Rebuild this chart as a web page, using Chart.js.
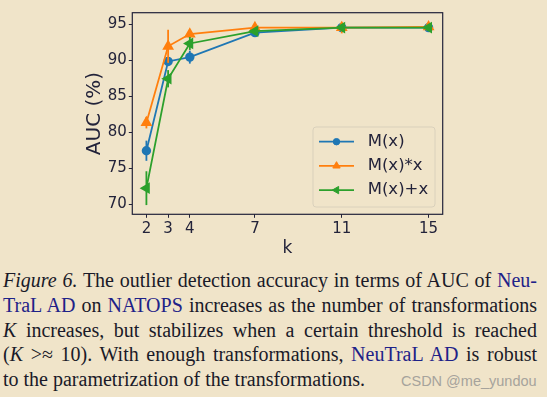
<!DOCTYPE html>
<html>
<head>
<meta charset="utf-8">
<script src="https://cdn.jsdelivr.net/npm/chart.js@4.4.1/dist/chart.umd.min.js"></script>
<style>
body { margin:0; background:#f0e4c9; width:547px; height:397px; overflow:hidden; position:relative; }
#wrap { position:absolute; left:0; top:0; width:547px; height:260px; }
#cap { position:absolute; left:3px; top:268.2px; width:534px; font-family:'Liberation Serif','Times New Roman',serif; font-size:20px; line-height:24.75px; color:#1a1a28; }
.ln { text-align:justify; text-align-last:justify; }
.last { text-align:left; text-align-last:left; }
.lk { color:#1e2288; }
#mark { position:absolute; left:401px; top:374px; font-family:'Liberation Sans',Arial,sans-serif; font-size:14.5px; line-height:1; color:#a6a39c; }
</style>
</head>
<body>
<div id="wrap"><canvas id="chart" width="547" height="260"></canvas></div>
<div id="cap">
  <div class="ln"><i>Figure 6.</i> The outlier detection accuracy in terms of AUC of <span class="lk">Neu-</span></div>
  <div class="ln"><span class="lk">TraL AD</span> on <span class="lk">NATOPS</span> increases as the number of transformations</div>
  <div class="ln"><i>K</i> increases, but stabilizes when a certain threshold is reached</div>
  <div class="ln">(<i>K</i> &gt;&asymp; 10). With enough transformations, <span class="lk">NeuTraL AD</span> is robust</div>
  <div class="ln last">to the parametrization of the transformations.</div>
</div>
<div id="mark">CSDN @me_yundou</div>
<script>
// values
const kValues = [2, 3, 4, 7, 11, 15];
const aucM = [77.4, 89.8, 90.4, 93.8, 94.5, 94.5];
const aucMx = [81.3, 91.9, 93.6, 94.5, 94.5, 94.6];
const aucMplus = [72.2, 87.4, 92.3, 94.0, 94.5, 94.5];
const errM = [1.4, 0.5, 0.9, 0.3, 0.3, 0.2];
const errMx = [0.8, 2.3, 0.5, 0.3, 0.8, 0.2];
const errMplus = [2.35, 1.2, 0.9, 0.2, 0.3, 0.2];
const yTicks = [70, 75, 80, 85, 90, 95];
const seriesNames = ['M(x)', 'M(x)*x', 'M(x)+x'];
const seriesColors = ['#1f77b4', '#ff7f0e', '#2ca02c'];

const ink = '#23233a';
const fam = '"DejaVu Sans", sans-serif';

function pts(vals) {
  return kValues.map((k, i) => ({x: k, y: vals[i]}));
}

const errorBars = {
  id: 'errorBars',
  afterDatasetDraw(chart, args) {
    const ds = chart.data.datasets[args.index];
    const ctx = chart.ctx, sx = chart.scales.x, sy = chart.scales.y;
    ctx.save();
    ctx.strokeStyle = ds.borderColor;
    ctx.lineWidth = 1.8;
    ds.data.forEach((p, i) => {
      const px = sx.getPixelForValue(p.x);
      ctx.beginPath();
      ctx.moveTo(px, sy.getPixelForValue(p.y - ds.err[i]));
      ctx.lineTo(px, sy.getPixelForValue(p.y + ds.err[i]));
      ctx.stroke();
    });
    ctx.restore();
  }
};

const frame = {
  id: 'frame',
  afterDatasetsDraw(chart) {
    const a = chart.chartArea, ctx = chart.ctx;
    ctx.save();
    ctx.strokeStyle = ink;
    ctx.lineWidth = 1.2;
    ctx.strokeRect(a.left, a.top, a.right - a.left, a.bottom - a.top);
    ctx.restore();
  }
};

const insideLegend = {
  id: 'insideLegend',
  afterDraw(chart) {
    const ctx = chart.ctx, a = chart.chartArea;
    const w = 122, h = 80;
    const bx = a.right - 7.7 - w, by = a.bottom - 7.3 - h;
    ctx.save();
    ctx.beginPath();
    ctx.roundRect(bx, by, w, h, 3);
    ctx.fillStyle = 'rgba(240,228,201,0.8)';
    ctx.fill();
    ctx.strokeStyle = '#d9d0bb';
    ctx.lineWidth = 1;
    ctx.stroke();
    seriesNames.forEach((name, i) => {
      const ds = chart.data.datasets[i];
      const cy = by + 14.7 + i * 24.2;
      ctx.strokeStyle = ds.borderColor;
      ctx.fillStyle = ds.backgroundColor;
      ctx.lineWidth = ds.borderWidth;
      ctx.beginPath();
      ctx.moveTo(bx + 6, cy);
      ctx.lineTo(bx + 41, cy);
      ctx.stroke();
      ctx.lineWidth = 1;
      Chart.helpers.drawPoint(ctx, {pointStyle: ds.pointStyle, radius: ds.pointRadius * 0.85,
        rotation: ds.pointRotation || 0, borderWidth: 1}, bx + 23.5, cy);
      ctx.fillStyle = ink;
      ctx.font = '16.5px ' + fam;
      ctx.textBaseline = 'middle';
      ctx.textAlign = 'left';
      ctx.fillText(name, bx + 54.7, cy);
    });
    ctx.restore();
  }
};

new Chart(document.getElementById('chart'), {
  type: 'line',
  data: {
    datasets: [
      {label: seriesNames[0], data: pts(aucM), err: errM, order: 2,
        borderColor: seriesColors[0], backgroundColor: seriesColors[0],
        pointStyle: 'circle', pointRadius: 3.8, borderWidth: 1.8},
      {label: seriesNames[1], data: pts(aucMx), err: errMx, order: 1,
        borderColor: seriesColors[1], backgroundColor: seriesColors[1],
        pointStyle: 'triangle', pointRadius: 5, borderWidth: 1.8},
      {label: seriesNames[2], data: pts(aucMplus), err: errMplus, order: 0,
        borderColor: seriesColors[2], backgroundColor: seriesColors[2],
        pointStyle: 'triangle', pointRotation: -90, pointRadius: 5, borderWidth: 1.8}
    ]
  },
  options: {
    responsive: false,
    animation: false,
    events: [],
    layout: {padding: {left: 80, right: 104.3, top: 12.7, bottom: 0}},
    plugins: {legend: {display: false}, tooltip: {enabled: false}},
    scales: {
      x: {
        type: 'linear', min: 1.35, max: 15.65,
        afterBuildTicks: s => { s.ticks = kValues.map(v => ({value: v})); },
        afterFit: s => { s.height = 45.7; },
        grid: {drawOnChartArea: false, drawTicks: true, tickLength: 3.5, color: ink},
        border: {display: false},
        ticks: {color: ink, font: {family: fam, size: 15}, padding: 2, maxRotation: 0},
        title: {display: true, text: 'k', color: ink, font: {family: fam, size: 17}, padding: {top: 0, bottom: 1}}
      },
      y: {
        type: 'linear', min: 68.57, max: 96.57,
        afterBuildTicks: s => { s.ticks = yTicks.map(v => ({value: v})); },
        afterFit: s => { s.width = 52.3; },
        grid: {drawOnChartArea: false, drawTicks: true, tickLength: 3.5, color: ink},
        border: {display: false},
        ticks: {color: ink, font: {family: fam, size: 15}, padding: 2},
        title: {display: true, text: 'AUC (%)', color: ink, font: {family: fam, size: 20}, padding: {top: 3, bottom: 0}}
      }
    }
  },
  plugins: [errorBars, frame, insideLegend]
});
</script>
</body>
</html>
